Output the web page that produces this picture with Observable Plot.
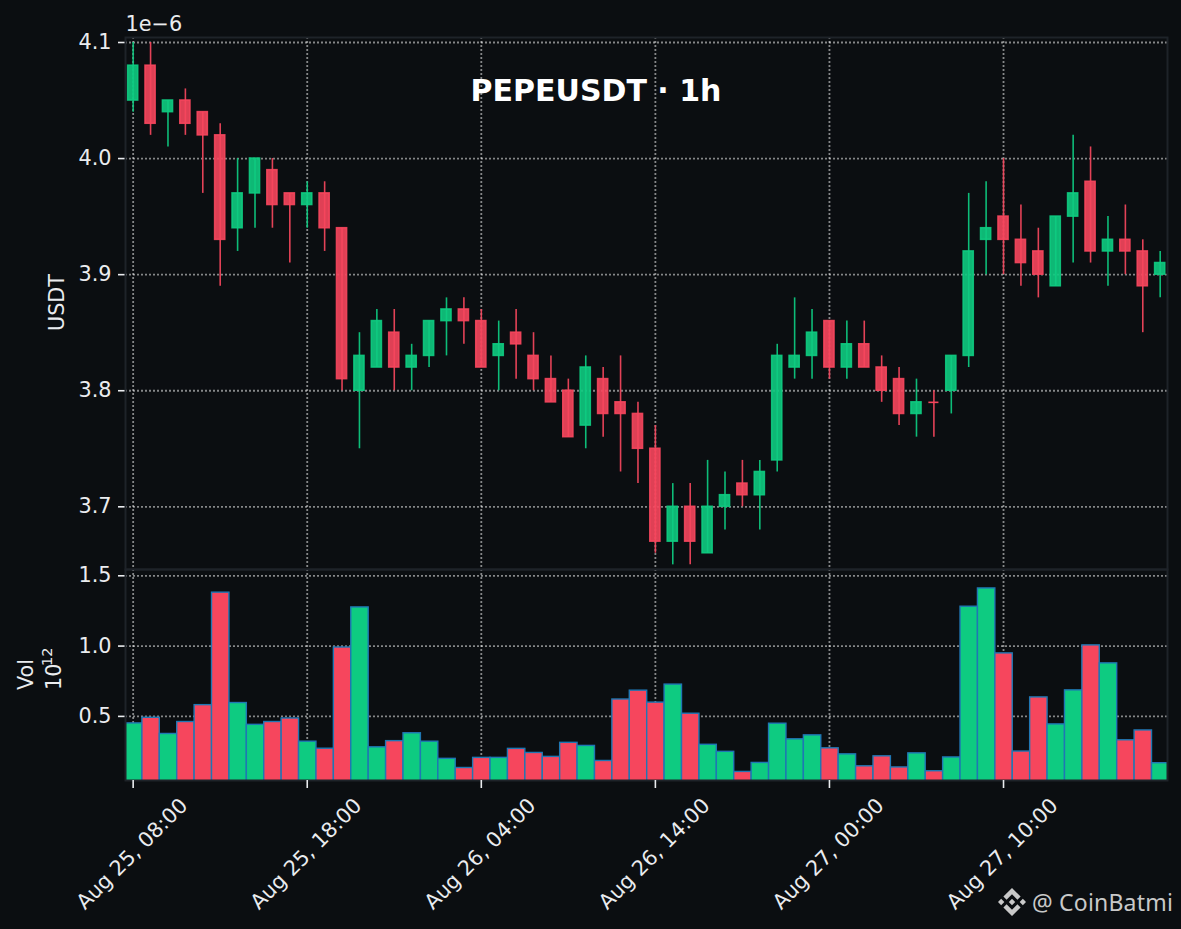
<!DOCTYPE html>
<html>
<head>
<meta charset="utf-8">
<script src="https://cdn.jsdelivr.net/npm/d3@7"></script>
<script src="https://cdn.jsdelivr.net/npm/@observablehq/plot@0.6"></script>
<style>
html,body{margin:0;padding:0;background:#0b0e11;width:1181px;height:929px;overflow:hidden}
#chart{position:relative;width:1181px;height:929px}
#chart > svg{display:block;overflow:visible}
#mark{position:absolute;left:998px;top:887px;height:30px;display:flex;align-items:center;color:#c9c9c9;font:23px "Noto Sans",sans-serif;letter-spacing:.2px;white-space:nowrap}
#mark svg{width:28px;height:28px;margin-right:6px;fill:#c9c9c9}
</style>
</head>
<body>
<div id="chart"></div>
<script>
const opens  = [4.05,4.08,4.04,4.05,4.04,4.02,3.94,3.97,3.99,3.97,3.96,3.97,3.94,3.80,3.82,3.85,3.82,3.83,3.86,3.87,3.86,3.83,3.85,3.83,3.81,3.80,3.77,3.81,3.79,3.78,3.75,3.67,3.70,3.66,3.70,3.72,3.71,3.74,3.82,3.83,3.86,3.82,3.84,3.82,3.81,3.78,3.79,3.80,3.83,3.93,3.95,3.93,3.92,3.89,3.95,3.98,3.92,3.93,3.92,3.90];
const closes = [4.08,4.03,4.05,4.03,4.02,3.93,3.97,4.00,3.96,3.96,3.97,3.94,3.81,3.83,3.86,3.82,3.83,3.86,3.87,3.86,3.82,3.84,3.84,3.81,3.79,3.76,3.82,3.78,3.78,3.75,3.67,3.70,3.67,3.70,3.71,3.71,3.73,3.83,3.83,3.85,3.82,3.84,3.82,3.80,3.78,3.79,3.79,3.83,3.92,3.94,3.93,3.91,3.90,3.95,3.97,3.92,3.93,3.92,3.89,3.91];
const highs  = [4.10,4.10,4.05,4.06,4.04,4.03,4.00,4.00,4.00,3.97,3.98,3.98,3.94,3.85,3.87,3.87,3.84,3.86,3.88,3.88,3.87,3.86,3.87,3.85,3.83,3.81,3.83,3.82,3.83,3.79,3.77,3.72,3.72,3.74,3.73,3.74,3.74,3.84,3.88,3.87,3.86,3.86,3.86,3.83,3.82,3.81,3.80,3.83,3.97,3.98,4.00,3.96,3.94,3.95,4.02,4.01,3.95,3.96,3.93,3.92];
const lows   = [4.04,4.02,4.01,4.02,3.97,3.89,3.92,3.94,3.94,3.91,3.94,3.92,3.80,3.75,3.82,3.80,3.80,3.82,3.83,3.84,3.82,3.80,3.81,3.80,3.79,3.76,3.75,3.76,3.73,3.72,3.66,3.65,3.65,3.66,3.68,3.70,3.68,3.73,3.81,3.81,3.81,3.81,3.82,3.79,3.77,3.76,3.76,3.78,3.82,3.90,3.90,3.89,3.88,3.89,3.91,3.91,3.89,3.90,3.85,3.88];
const volumes = [.45,.49,.375,.46,.58,1.38,.595,.44,.46,.485,.32,.27,.99,1.275,.28,.324,.38,.32,.198,.133,.205,.205,.269,.24,.212,.312,.29,.183,.62,.683,.598,.726,.519,.298,.248,.105,.169,.448,.337,.365,.273,.23,.145,.216,.137,.237,.11,.208,1.28,1.41,.948,.25,.635,.443,.685,1.005,.877,.33,.40,.167];
const priceTicks = [3.7,3.8,3.9,4.0,4.1];
const volumeTicks = [0.5,1.0,1.5];
const tickIndexes = [0,10,20,30,40,50];

const HOUR = 3600000;
const START = Date.UTC(2024,7,25,8);
const time = i => new Date(START + i*HOUR);
const rows = opens.map((o,i)=>({i,t:time(i),open:o,close:closes[i],high:highs[i],low:lows[i],vol:volumes[i],up:closes[i]>o}));
const timeTicks = tickIndexes.map(time);
const xDomain = [time(-0.44), time(59.42)];

const GREEN="#0ecb81", RED="#f6465d", SPINE="#1e2329", INK="#eaecef";
const FS=20.8;
const color = d => d.up?GREEN:RED;
const gridStyle = {stroke:"#ffffff",strokeOpacity:0.5,strokeWidth:1.8,strokeDasharray:"2,2"};
const fmtX = d3.utcFormat("%b %d, %H:%M");

const common = {width:1181,marginLeft:125,marginRight:14,style:{background:"transparent",color:INK,fontFamily:"'DejaVu Sans'",fontSize:FS+"px",overflow:"visible"}};

const top_ = Plot.plot({
  ...common,height:569,marginTop:37,marginBottom:0,
  x:{type:"time",domain:xDomain,axis:null},
  y:{domain:[3.646,4.1043],axis:null},
  marks:[
    Plot.gridX(timeTicks,{...gridStyle}),
    Plot.gridY(priceTicks,{...gridStyle}),
    Plot.axisY({ticks:priceTicks,tickFormat:d=>d.toFixed(1),tickSize:7,tickPadding:7,label:null,stroke:INK,strokeWidth:1.6,fill:INK,fontSize:FS}),
    Plot.ruleX(rows,{x:"t",y1:"low",y2:"high",stroke:color,strokeWidth:1.6,strokeOpacity:.92}),
    Plot.rect(rows,{x1:d=>time(d.i-.29),x2:d=>time(d.i+.29),y1:"open",y2:"close",fill:color,fillOpacity:.9,stroke:color,strokeOpacity:.9,strokeWidth:1.6}),
    Plot.ruleY(rows.filter(d=>d.open===d.close),{x1:d=>time(d.i-.29),x2:d=>time(d.i+.29),y:"open",stroke:color,strokeWidth:1.6}),
    Plot.frame({stroke:SPINE,strokeWidth:2}),
    Plot.text(["1e−6"],{frameAnchor:"top-left",textAnchor:"start",lineAnchor:"middle",dy:-13,fontSize:FS,fill:INK}),
    Plot.text(["USDT"],{frameAnchor:"left",rotate:-90,textAnchor:"middle",lineAnchor:"middle",dx:-68,dy:-1,fontSize:FS,fill:INK}),
    Plot.text(["PEPEUSDT · 1h"],{frameAnchor:"top-left",textAnchor:"middle",lineAnchor:"middle",dx:470.5,dy:54,fontSize:30,fontWeight:"bold",fill:"#ffffff"})
  ]
});

const bottom_ = Plot.plot({
  ...common,height:360,marginTop:0,marginBottom:149,
  x:{type:"time",domain:xDomain,axis:null},
  y:{domain:[0.044,1.5447],axis:null},
  marks:[
    Plot.gridX(timeTicks,{...gridStyle}),
    Plot.gridY(volumeTicks,{...gridStyle}),
    Plot.axisY({ticks:volumeTicks,tickFormat:d=>d.toFixed(1),tickSize:7,tickPadding:7,label:null,stroke:INK,strokeWidth:1.6,fill:INK,fontSize:FS}),
    Plot.rect(rows,{x1:d=>time(d.i-.47),x2:d=>time(d.i+.53),y1:()=>0,y2:"vol",fill:color,stroke:"#1f77b4",strokeWidth:1.4,clip:true}),
    Plot.frame({stroke:SPINE,strokeWidth:2}),
    Plot.ruleX(timeTicks,{x:d=>d,insetTop:211,insetBottom:-8,stroke:INK,strokeWidth:1.6}),
    Plot.axisX({ticks:timeTicks,tickFormat:fmtX,tickRotate:-45,textAnchor:"middle",lineAnchor:"middle",tickSize:0,tickPadding:73.5,dx:-1,label:null,fill:INK,fontSize:FS}),
    Plot.text(["Vol"],{frameAnchor:"left",rotate:-90,textAnchor:"start",lineAnchor:"middle",dx:-99,dy:15,fontSize:FS,fill:INK}),
    Plot.text(["10"],{frameAnchor:"left",rotate:-90,textAnchor:"start",lineAnchor:"middle",dx:-71,dy:15,fontSize:FS,fill:INK}),
    Plot.text(["12"],{frameAnchor:"left",rotate:-90,textAnchor:"start",lineAnchor:"middle",dx:-78,dy:-9,fontSize:14.5,fill:INK})
  ]
});

const host=document.getElementById("chart");
host.append(top_,bottom_);
const m=document.createElement("div");
m.id="mark";
m.innerHTML='<svg viewBox="0 0 126.61 126.61"><path d="M38.73 53.2l24.59-24.58 24.6 24.6 14.3-14.31L63.32 0 24.42 38.9l14.31 14.3z M0 63.31l14.3-14.31 14.31 14.31-14.31 14.3z M38.73 73.41l24.59 24.59 24.6-24.6 14.31 14.29-38.9 38.91-38.91-38.88v-.03z M98 63.31l14.3-14.31 14.31 14.3-14.31 14.32z M77.83 63.3L63.32 48.78 52.59 59.51l-1.24 1.23-2.54 2.54 14.51 14.5 14.51-14.47z"/></svg><span>@ CoinBatmi</span>';
host.append(m);
</script>
</body>
</html>
